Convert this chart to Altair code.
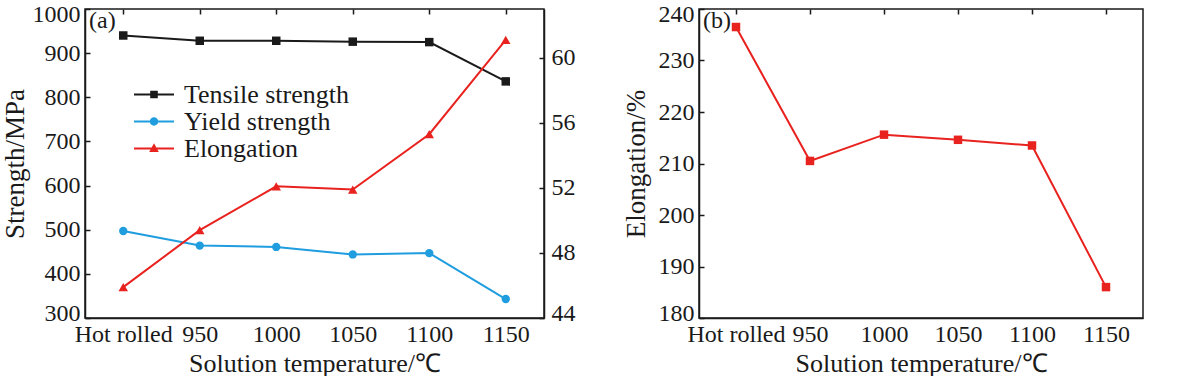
import altair as alt
import pandas as pd

# ---------------- data ----------------
temps = ["Hot rolled", "950", "1000", "1050", "1100", "1150"]
tensile = [940, 928, 928, 926, 925, 836]
yield_strength = [497, 464, 461, 444, 447, 343]
elong_a = [45.9, 49.4, 52.1, 51.9, 55.3, 61.1]
elong_b = [236.5, 210.5, 215.6, 214.6, 213.5, 186.0]
series = ["Tensile strength", "Yield strength", "Elongation"]
colors = ["#1a1a1a", "#1f9ddf", "#e8221e"]
strength_ticks = [300, 400, 500, 600, 700, 800, 900, 1000]
elong_ticks_a = [44, 48, 52, 56, 60]
elong_ticks_b = [180, 190, 200, 210, 220, 230, 240]

FONT = "Liberation Serif"
INK = "#1a1a1a"
W_A, W_B, H = 459, 444, 309
LABEL_FS, TITLE_FS, LEGEND_FS = 24, 27, 26

df_a = pd.DataFrame({
    "temp": temps * 3,
    "series": [s for s in series for _ in temps],
    "value": tensile + yield_strength + elong_a,
})
df_b = pd.DataFrame({"temp": temps, "value": elong_b})

# legend symbols: line + marker (custom paths)
LINE = "M-1,-0.05H1V0.05H-1Z"
sym_paths = [
    LINE + "M-0.19,-0.19H0.19V0.19H-0.19Z",
    LINE + "M-0.21,0A0.21,0.21,0,1,1,0.21,0A0.21,0.21,0,1,1,-0.21,0Z",
    LINE + "M0,-0.26L0.24,0.18H-0.24Z",
]


# ---------------- axis helpers ----------------
def x_main():
    return alt.X("temp:O", sort=temps, scale=alt.Scale(domain=temps),
                 axis=alt.Axis(title="Solution temperature/℃", labelAngle=0,
                               ticks=False, tickSize=0, labelPadding=4,
                               titlePadding=4, titleFontSize=26))


def x_ticks():
    return alt.X("temp:O", sort=temps, scale=alt.Scale(domain=temps),
                 axis=alt.Axis(title=None, labels=False, domain=False,
                               tickSize=5, offset=-5))


def x_none():
    return alt.X("temp:O", sort=temps, scale=alt.Scale(domain=temps), axis=None)


def y_main(domain, values, title, orient, lp, tp):
    return alt.Y("value:Q", scale=alt.Scale(domain=domain, nice=False, zero=False),
                 axis=alt.Axis(title=title, values=values, orient=orient, format="d",
                               ticks=False, tickSize=0, labelPadding=lp,
                               titlePadding=tp, labelFlush=2, labelFlushOffset=7))


def y_ticks(domain, values, orient):
    return alt.Y("value:Q", scale=alt.Scale(domain=domain, nice=False, zero=False),
                 axis=alt.Axis(title=None, labels=False, domain=False,
                               values=values, orient=orient, tickSize=5,
                               offset=-5))


def y_none(domain):
    return alt.Y("value:Q", scale=alt.Scale(domain=domain, nice=False, zero=False),
                 axis=None)


S_DOM = [300, 1000]
E_DOM = [44, 63]
B_DOM = [180, 240]

base_a = alt.Chart(df_a)
t_f = alt.datum.series == series[0]
y_f = alt.datum.series == series[1]
e_f = alt.datum.series == series[2]

t_line = base_a.transform_filter(t_f).mark_line(color=colors[0], strokeWidth=2).encode(
    x=x_main(), y=y_main(S_DOM, strength_ticks, "Strength/MPa", "left", 5, 3))
t_pts = base_a.transform_filter(t_f).mark_point(shape="square", filled=True, size=72,
                                               color=colors[0], opacity=1).encode(
    x=x_ticks(), y=y_ticks(S_DOM, strength_ticks, "left"))
y_line = base_a.transform_filter(y_f).mark_line(color=colors[1], strokeWidth=2).encode(
    x=x_none(), y=y_none(S_DOM))
y_pts = base_a.transform_filter(y_f).mark_point(shape="circle", filled=True, size=70,
                                               color=colors[1], opacity=1).encode(
    x=x_none(), y=y_none(S_DOM))
e_line = base_a.transform_filter(e_f).mark_line(color=colors[2], strokeWidth=2).encode(
    x=x_none(), y=y_main(E_DOM, elong_ticks_a, None, "right", 7, 0))
e_pts = base_a.transform_filter(e_f).mark_point(shape="triangle-up", filled=True, size=90,
                                               color=colors[2], opacity=1).encode(
    x=x_none(), y=y_ticks(E_DOM, elong_ticks_a, "right"))

leg = alt.Legend(title=None, orient="none", legendX=49, legendY=72,
                 symbolSize=1600, symbolOpacity=1, symbolStrokeWidth=0,
                 labelFont=FONT, labelFontSize=LEGEND_FS, labelColor=INK,
                 labelLimit=400, labelOffset=10, clipHeight=27,
                 rowPadding=0, padding=0)
legend_layer = base_a.mark_point(filled=True, opacity=0).encode(
    color=alt.Color("series:N", scale=alt.Scale(domain=series, range=colors), legend=leg),
    shape=alt.Shape("series:N", scale=alt.Scale(domain=series, range=sym_paths), legend=leg),
)

lab_a = alt.Chart(pd.DataFrame({"t": ["(a)"]})).mark_text(
    font=FONT, fontSize=24, color=INK, align="left", baseline="middle").encode(
    text="t:N", x=alt.value(4), y=alt.value(12))

panel_a = alt.layer(t_line, t_pts, y_line, y_pts, e_line, e_pts, legend_layer, lab_a).resolve_scale(
    x="independent", y="independent").properties(width=W_A, height=H)

base_b = alt.Chart(df_b)
b_line = base_b.mark_line(color=colors[2], strokeWidth=2).encode(
    x=x_main(), y=y_main(B_DOM, elong_ticks_b, "Elongation/%", "left", 5, 8))
b_pts = base_b.mark_point(shape="square", filled=True, size=72, color=colors[2], opacity=1).encode(
    x=x_ticks(), y=y_ticks(B_DOM, elong_ticks_b, "left"))
lab_b = alt.Chart(pd.DataFrame({"t": ["(b)"]})).mark_text(
    font=FONT, fontSize=24, color=INK, align="left", baseline="middle").encode(
    text="t:N", x=alt.value(4), y=alt.value(12))

panel_b = alt.layer(b_line, b_pts, lab_b).resolve_scale(
    x="independent", y="independent").properties(width=W_B, height=H)

chart = alt.hconcat(panel_a, panel_b, spacing=45).properties(
    padding={"left": 0, "top": 1, "right": 0, "bottom": 0},
    background="white",
).configure_view(stroke=INK, strokeWidth=1.5).configure_axis(
    domainColor=INK, domainWidth=1.5, tickColor=INK, tickWidth=1.5,
    labelFont=FONT, labelFontSize=LABEL_FS, labelColor=INK,
    titleFont=FONT, titleFontSize=TITLE_FS, titleFontWeight="normal", titleColor=INK,
    grid=False,
)

chart.save("out.html", embed_options={"renderer": "svg", "actions": False})
